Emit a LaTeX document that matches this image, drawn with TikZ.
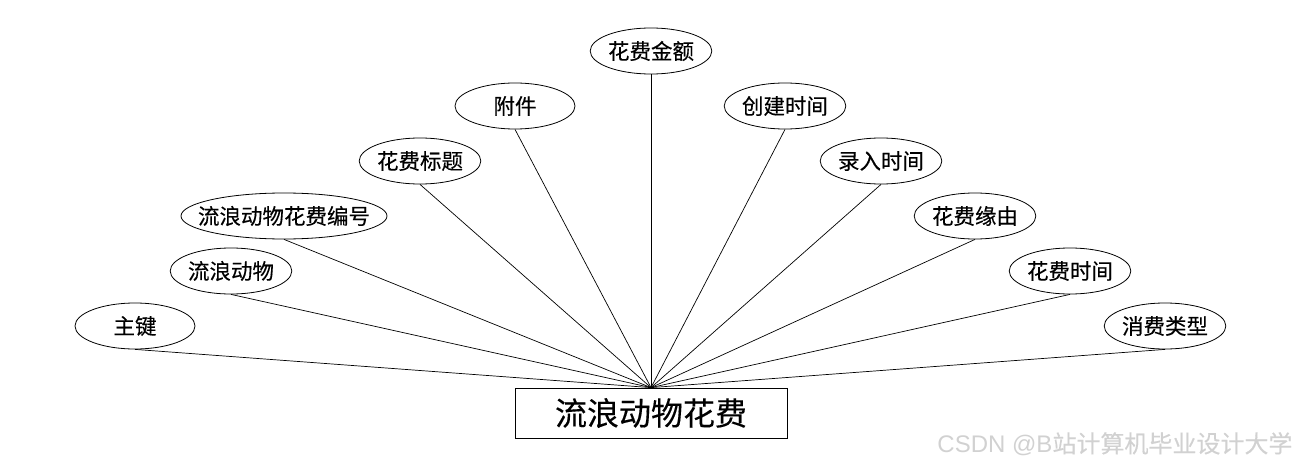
\documentclass[tikz,border=0pt]{standalone}
\usepackage{fontspec}
\usepackage{tikz}
\usetikzlibrary{positioning,shapes.geometric}
\setmainfont{Noto Sans CJK SC}[FakeBold=0.25]
\newfontfamily\wmfont{Liberation Sans}
\tikzset{
  attr/.style={draw, ellipse, line width=0.8pt, minimum width=120pt, minimum height=46pt, inner sep=0pt, font=\fontsize{21.5pt}{24pt}\selectfont},
  entity/.style={draw, line width=0.8pt, minimum width=272pt, minimum height=50pt, font=\fontsize{32pt}{35pt}\selectfont},
  link/.style={line width=0.7pt}
}
\begin{document}
\begin{tikzpicture}[x=1pt, y=-1pt]
      \useasboundingbox (0,0) rectangle (1300,468);
      \node[entity] (e) at (651,413) {流浪动物花费};
      % attributes, left side
      \node[attr] (a1) at (135,326) {主键};
      \node[attr] (a2) at (231,271) {流浪动物};
      \node[attr, inner xsep=-19pt, minimum width=206pt] (a3) at (284,216) {流浪动物花费编号};
      \node[attr] (a4) at (420,161) {花费标题};
      \node[attr] (a5) at (515,106) {附件};
      \node[attr] (a6) at (651,51) {花费金额};
      % attributes, right side
      \node[attr] (a7) at (785,106) {创建时间};
      \node[attr] (a8) at (881,161) {录入时间};
      \node[attr] (a9) at (975,216) {花费缘由};
      \node[attr] (a10) at (1070,271) {花费时间};
      \node[attr] (a11) at (1165,326) {消费类型};
      \foreach \i in {1,...,11}
        \draw[link] (a\i.south) -- (e.north);
      \node[text=black!18, font=\fontsize{24pt}{27pt}\selectfont, anchor=east] (wm) at (1296,444) {{\wmfont CSDN @B}站计算机毕业设计大学};
    \end{tikzpicture}
\end{document}
